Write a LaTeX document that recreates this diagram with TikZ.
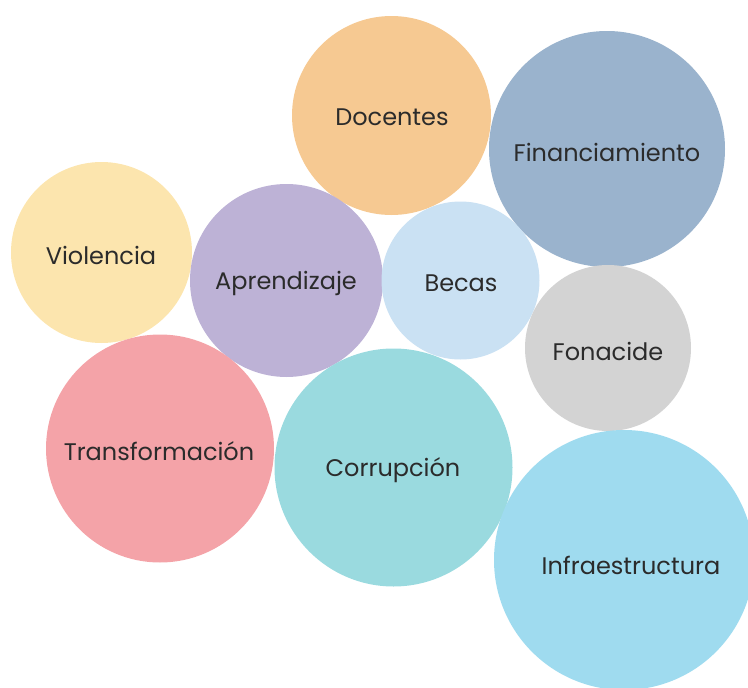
\documentclass[tikz,border=0pt]{standalone}
\usepackage{fontspec}
\setmainfont{Poppins}
\definecolor{cDoc}{HTML}{F6C992}
\definecolor{cFin}{HTML}{9AB3CD}
\definecolor{cVio}{HTML}{FCE5AE}
\definecolor{cApr}{HTML}{BDB2D6}
\definecolor{cBec}{HTML}{CAE1F3}
\definecolor{cFon}{HTML}{D3D3D3}
\definecolor{cTra}{HTML}{F4A3A8}
\definecolor{cCor}{HTML}{9ADADF}
\definecolor{cInf}{HTML}{9FDBEF}
\definecolor{txt}{HTML}{2B2B2B}
\tikzset{
  bubble/.style={circle, inner sep=0pt, draw=none},
  lbl/.style={text=txt, font=\fontsize{24}{28}\selectfont, inner sep=0pt}
}
\begin{document}
\begin{tikzpicture}[x=1pt,y=-1pt]
\useasboundingbox (0,0) rectangle (748,688);
\begin{scope}
\clip (0,0) rectangle (748,688);
\node[bubble, fill=cDoc, minimum size=199pt] (doc) at (391.5,115.5) {};
\node[bubble, fill=cFin, minimum size=236pt] (fin) at (607,149) {};
\node[bubble, fill=cVio, minimum size=181pt] (vio) at (101.5,252.5) {};
\node[bubble, fill=cApr, minimum size=193pt] (apr) at (286.5,280.5) {};
\node[bubble, fill=cBec, minimum size=158pt] (bec) at (460.5,280.5) {};
\node[bubble, fill=cFon, minimum size=166pt] (fon) at (608,348) {};
\node[bubble, fill=cTra, minimum size=228pt] (tra) at (160,448.5) {};
\node[bubble, fill=cCor, minimum size=238pt] (cor) at (393.5,467.5) {};
\node[bubble, fill=cInf, minimum size=260pt] (inf) at (624,560) {};
\end{scope}
\node[lbl] (tdoc) at (392,117) {Docentes};
\node[lbl] (tfin) at (607,152) {Financiamiento};
\node[lbl] (tvio) at (101,255) {Violencia};
\node[lbl] (tapr) at (286,283) {Aprendizaje};
\node[lbl] (tbec) at (461,283) {Becas};
\node[lbl] (tfon) at (608,351) {Fonacide};
\node[lbl] (ttra) at (159,451) {Transformación};
\node[lbl] (tcor) at (393,470) {Corrupción};
\node[lbl] (tinf) at (631,565) {Infraestructura};
\end{tikzpicture}
\end{document}
